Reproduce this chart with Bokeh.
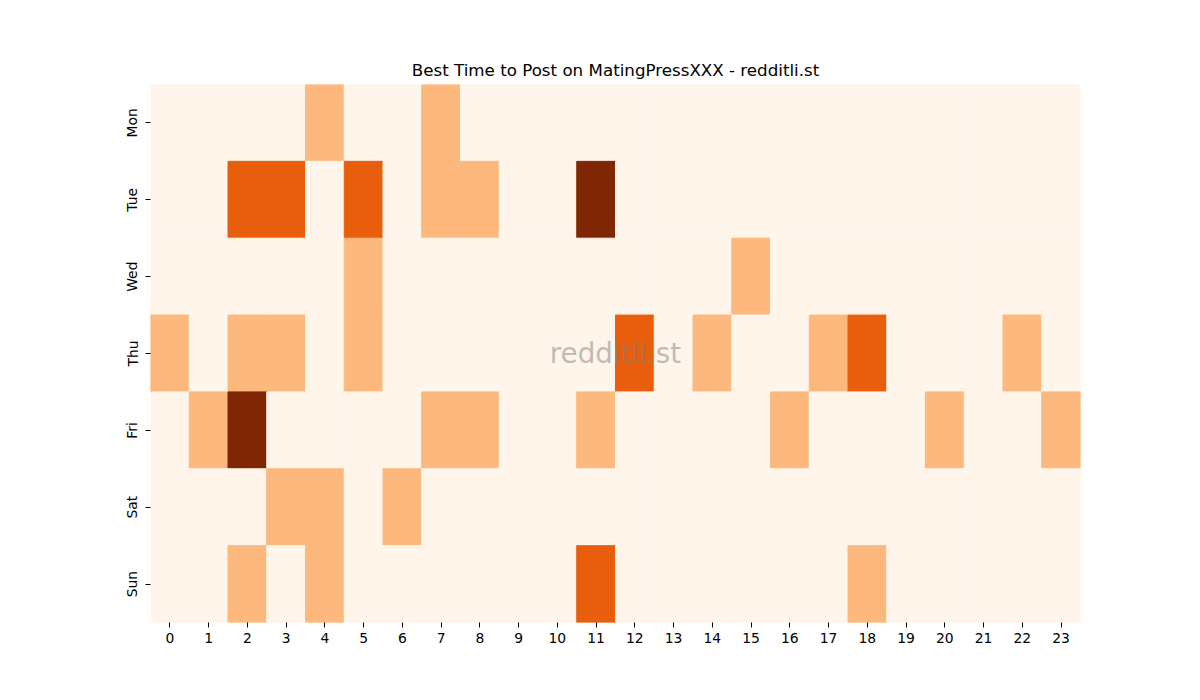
from bokeh.plotting import figure
from bokeh.models import ColumnDataSource, LinearColorMapper, FixedTicker, Range1d, Label
from bokeh.palettes import Oranges256
from bokeh.embed import file_html
from bokeh.resources import INLINE

days = ["Mon", "Tue", "Wed", "Thu", "Fri", "Sat", "Sun"]
hours = list(range(24))

# posts per (day, hour)
mon = [0, 0, 0, 0, 1, 0, 0, 1, 0, 0, 0, 0, 0, 0, 0, 0, 0, 0, 0, 0, 0, 0, 0, 0]
tue = [0, 0, 2, 2, 0, 2, 0, 1, 1, 0, 0, 3, 0, 0, 0, 0, 0, 0, 0, 0, 0, 0, 0, 0]
wed = [0, 0, 0, 0, 0, 1, 0, 0, 0, 0, 0, 0, 0, 0, 0, 1, 0, 0, 0, 0, 0, 0, 0, 0]
thu = [1, 0, 1, 1, 0, 1, 0, 0, 0, 0, 0, 0, 2, 0, 1, 0, 0, 1, 2, 0, 0, 0, 1, 0]
fri = [0, 1, 3, 0, 0, 0, 0, 1, 1, 0, 0, 1, 0, 0, 0, 0, 1, 0, 0, 0, 1, 0, 0, 1]
sat = [0, 0, 0, 1, 1, 0, 1, 0, 0, 0, 0, 0, 0, 0, 0, 0, 0, 0, 0, 0, 0, 0, 0, 0]
sun = [0, 0, 1, 0, 1, 0, 0, 0, 0, 0, 0, 2, 0, 0, 0, 0, 0, 0, 1, 0, 0, 0, 0, 0]

rows = [mon, tue, wed, thu, fri, sat, sun]

xs, ys, vals = [], [], []
for di, row in enumerate(rows):
    for h, v in zip(hours, row):
        xs.append(h)
        ys.append(di)
        vals.append(v)

src = ColumnDataSource(dict(x=xs, y=ys, v=vals))
vmax = max(vals)
mapper = LinearColorMapper(palette=list(reversed(Oranges256)), low=0, high=vmax)

p = figure(
    width=1184, height=684,
    x_range=Range1d(-0.5, len(hours) - 0.5),
    y_range=Range1d(len(days) - 0.5, -0.5),
    title="Best Time to Post on MatingPressXXX - redditli.st",
    output_backend="svg",
    toolbar_location=None,
    tools="",
    min_border_left=150, min_border_right=104,
    min_border_top=84, min_border_bottom=62,
)

cmap = {"field": "v", "transform": mapper}
p.rect("x", "y", width=1, height=1, source=src,
       fill_color=cmap, line_color=cmap, line_width=1)

p.title.align = "center"
p.title.text_font = "DejaVu Sans"
p.title.text_font_size = "16.7px"
p.title.text_font_style = "normal"
p.title.text_color = "black"

p.grid.visible = False
p.outline_line_color = None
p.background_fill_color = "white"
p.border_fill_color = "white"

p.xaxis.ticker = FixedTicker(ticks=hours)
p.yaxis.ticker = FixedTicker(ticks=list(range(len(days))))
p.yaxis.major_label_overrides = {i: d for i, d in enumerate(days)}
p.yaxis.major_label_orientation = "vertical"

for ax in (p.xaxis[0], p.yaxis[0]):
    ax.axis_line_color = None
    ax.minor_tick_line_color = None
    ax.major_tick_in = 0
    ax.major_tick_out = 5
    ax.major_tick_line_color = "black"
    ax.major_label_text_font = "DejaVu Sans"
    ax.major_label_text_font_size = "13.9px"
    ax.major_label_text_color = "black"
    ax.major_label_standoff = 5

p.add_layout(Label(
    x=(len(hours) - 1) / 2, y=(len(days) - 1) / 2, text="redditli.st",
    text_align="center", text_baseline="middle",
    text_font="DejaVu Sans", text_font_size="27.8px",
    text_color="gray", text_alpha=0.5,
))

open("out.html", "w").write(file_html(p, INLINE))
